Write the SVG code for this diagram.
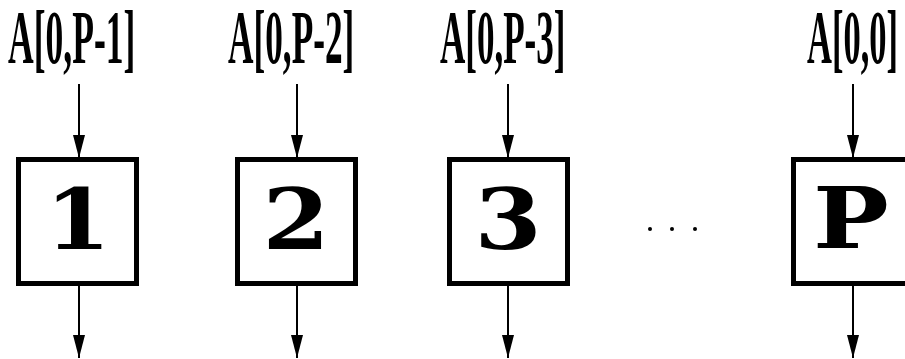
<svg xmlns="http://www.w3.org/2000/svg" width="905" height="359" viewBox="0 0 905 359">
  <defs>
    <marker id="arrow" markerWidth="23" markerHeight="12" refX="23" refY="6" orient="auto" markerUnits="userSpaceOnUse" viewBox="0 0 23 12">
      <path d="M0,0 L23,6 L0,12 Z" fill="#000"/>
    </marker>
    <style>
      .box { fill: #fff; stroke: #000; stroke-width: 5; }
      .num { font-family: "DejaVu Serif", serif; font-weight: bold; font-size: 84px; text-anchor: middle; fill: #000; }
      .lbl { font-family: "Liberation Serif", serif; font-weight: bold; font-size: 77px; fill: #000; }
      .edge { stroke: #000; stroke-width: 2; fill: none; marker-end: url(#arrow); }
    </style>
  </defs>
  <rect width="905" height="359" fill="#fff"/>

  <!-- input labels (condensed bold serif) -->
  <g id="labels">
    <text class="lbl" transform="translate(8,63) scale(0.462,1)">A[0,P-1]</text>
    <text class="lbl" transform="translate(228,63) scale(0.458,1)">A[0,P-2]</text>
    <text class="lbl" transform="translate(440,63) scale(0.455,1)">A[0,P-3]</text>
    <text class="lbl" transform="translate(807,63) scale(0.448,1)">A[0,0]</text>
  </g>

  <!-- connectors -->
  <g id="connectors">
    <line class="edge" x1="79" y1="84" x2="79" y2="158"/>
    <line class="edge" x1="79" y1="286" x2="79" y2="358"/>
    <line class="edge" x1="297" y1="84" x2="297" y2="158"/>
    <line class="edge" x1="297" y1="286" x2="297" y2="358"/>
    <line class="edge" x1="508" y1="84" x2="508" y2="158"/>
    <line class="edge" x1="508" y1="286" x2="508" y2="358"/>
    <line class="edge" x1="853" y1="84" x2="853" y2="158"/>
    <line class="edge" x1="853" y1="286" x2="853" y2="358"/>
  </g>

  <!-- processors -->
  <g id="p1">
    <rect class="box" x="18.5" y="159.5" width="118" height="124"/>
    <text class="num" transform="translate(78,249) scale(1.12,1)">1</text>
  </g>
  <g id="p2">
    <rect class="box" x="237.5" y="159.5" width="118" height="124"/>
    <text class="num" transform="translate(296,249) scale(1.15,1)">2</text>
  </g>
  <g id="p3">
    <rect class="box" x="449.5" y="159.5" width="118" height="124"/>
    <text class="num" transform="translate(508,249) scale(1.15,1)">3</text>
  </g>
  <g id="pP">
    <rect class="box" x="793.5" y="159.5" width="120" height="124"/>
    <text class="num" transform="translate(851,248) scale(1.2,1)">P</text>
  </g>

  <!-- ellipsis between 3 and P -->
  <g id="ellipsis" fill="#000">
    <circle cx="650" cy="229" r="2"/>
    <circle cx="672" cy="229" r="2"/>
    <circle cx="695" cy="229" r="2"/>
  </g>
</svg>
